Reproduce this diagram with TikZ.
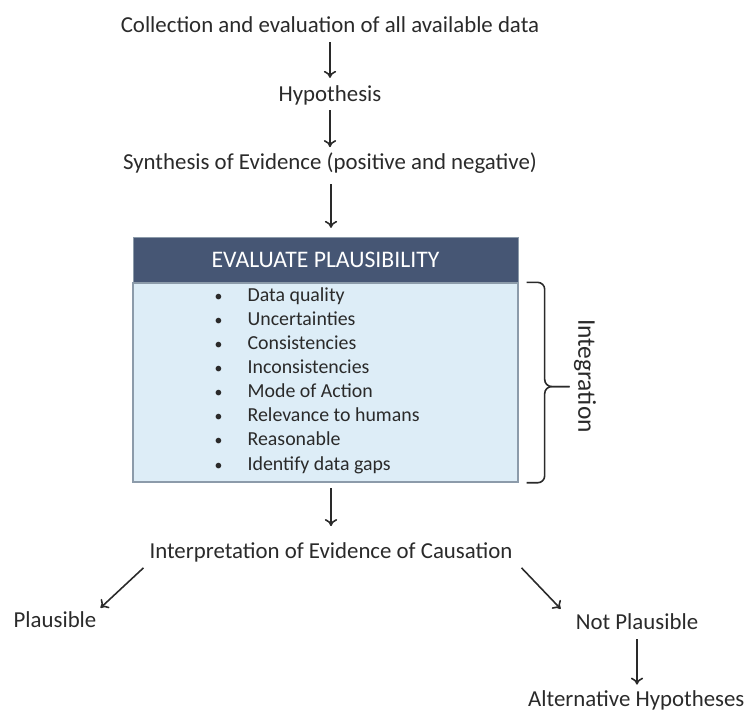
\documentclass[tikz,border=0pt]{standalone}
\usepackage{fontspec}
\setmainfont{Carlito}
\usepackage{tikz}
\usetikzlibrary{calc, arrows.meta}
\definecolor{inkgray}{HTML}{2A2A2A}
\definecolor{headnavy}{HTML}{465674}
\definecolor{bodyblue}{HTML}{DDEDF7}
\definecolor{edgegray}{HTML}{8C9BAA}
\tikzstyle{txt}    = [text=inkgray, font=\fontsize{13}{15}\selectfont, inner sep=1pt]
\tikzstyle{header} = [rectangle, minimum width=7.7cm, minimum height=0.9cm, fill=headnavy, draw=edgegray, text=white, font=\fontsize{13.5}{15}\selectfont]
\tikzstyle{panel}  = [rectangle, minimum width=7.7cm, minimum height=3.98cm, fill=bodyblue, draw=edgegray, line width=0.8pt]
\tikzstyle{list}   = [text=inkgray, align=left, inner sep=0pt, font=\fontsize{11.3}{13.7}\selectfont]
\tikzstyle{arrow}  = [draw=inkgray, line width=0.9pt, -{To[length=4pt,width=7pt]}]

\begin{document}
\begin{tikzpicture}[node distance=1.4cm]
  \useasboundingbox (0,0) rectangle (14.94,-14.22);

  \node (coll) [txt] at (6.60,-0.50) {Collection and evaluation of all available data};
  \node (hyp)  [txt, below of=coll] {Hypothesis};
  \node (syn)  [txt, below of=hyp, yshift=0.04cm] {Synthesis of Evidence (positive and negative)};

  \node (head) [header] at (6.51,-5.19) {EVALUATE PLAUSIBILITY};
  \node (body) [panel, anchor=north] at (head.south) {};
  \node (items) [list, anchor=west, xshift=1.64cm, yshift=0.04cm] at (body.west) {%
    \makebox[0.66cm][l]{\small\textbullet}Data quality\\
    \makebox[0.66cm][l]{\small\textbullet}Uncertainties\\
    \makebox[0.66cm][l]{\small\textbullet}Consistencies\\
    \makebox[0.66cm][l]{\small\textbullet}Inconsistencies\\
    \makebox[0.66cm][l]{\small\textbullet}Mode of Action\\
    \makebox[0.66cm][l]{\small\textbullet}Relevance to humans\\
    \makebox[0.66cm][l]{\small\textbullet}Reasonable\\
    \makebox[0.66cm][l]{\small\textbullet}Identify data gaps};

  % brace on the right of the panel
  \coordinate (brtop) at ($(body.north east)+(0.16,0)$);
  \coordinate (brbot) at ($(body.south east)+(0.16,0)$);
  \draw [inkgray, line width=0.9pt, rounded corners=4pt]
    (brtop) -- ++(0.36,0) |- ($(brtop)!0.52!(brbot)+(0.86,0)$);
  \draw [inkgray, line width=0.9pt, rounded corners=4pt]
    (brbot) -- ++(0.36,0) |- ($(brtop)!0.52!(brbot)+(0.86,0)$);
  \node (integ) [txt, rotate=-90, font=\fontsize{14.5}{16}\selectfont] at (11.70,-7.52) {Integration};

  \node (interp) [txt] at (6.62,-11.04) {Interpretation of Evidence of Causation};
  \node (plaus)  [txt] at (1.10,-12.40) {Plausible};
  \node (notp)   [txt] at (12.74,-12.44) {Not Plausible};
  \node (alt)    [txt, anchor=east] at (14.93,-14.00) {Alternative Hypotheses};

  \draw [arrow, shorten <=4pt, shorten >=3pt] (coll) -- (hyp);
  \draw [arrow, shorten <=2pt, shorten >=2pt] (hyp) -- (syn);
  \draw [arrow, shorten <=5pt, shorten >=5pt] (syn.south -| interp.north) -- (head.north -| interp.north);
  \draw [arrow, shorten <=3pt, shorten >=8pt] (interp.north |- body.south) -- (interp.north);
  \draw [arrow] ([xshift=-0.08cm,yshift=-0.08cm]interp.south west) -- ([xshift=0.04cm,yshift=0.04cm]plaus.north east);
  \draw [arrow] ([xshift=0.14cm,yshift=-0.08cm]interp.south east) -- ([xshift=-0.26cm,yshift=0.06cm]notp.north west);
  \draw [arrow, shorten <=4pt, shorten >=2pt] (notp.south) -- (notp.south |- alt.north);

\end{tikzpicture}
\end{document}
